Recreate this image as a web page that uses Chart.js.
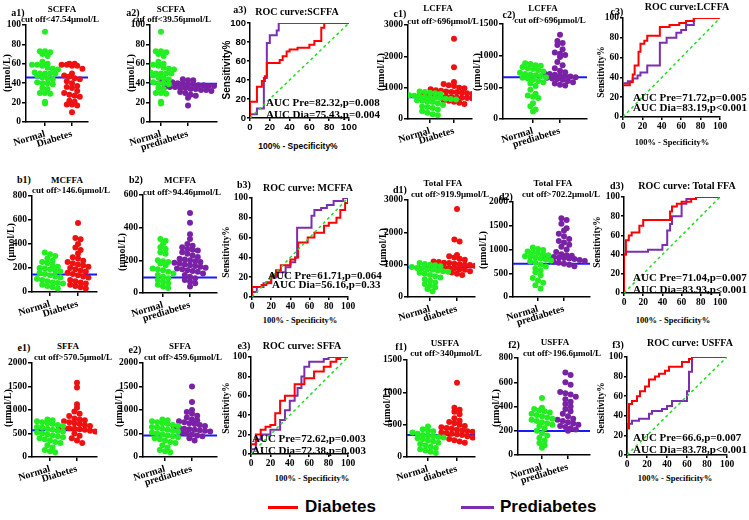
<!DOCTYPE html>
<html lang="en">
<head>
<meta charset="UTF-8">
<title>FFA cut-offs and ROC curves</title>
<script src="https://cdn.jsdelivr.net/npm/chart.js"></script>
<style>
  body { margin: 0; width: 749px; height: 520px; position: relative; overflow: hidden; background: #fff; }
  canvas { position: absolute; }
  .t { position: absolute; white-space: nowrap; font-weight: bold; font-family: "Liberation Serif", serif; color: #000; line-height: 1; }
  .leg { position: absolute; font: bold 17px "Liberation Sans", Arial, sans-serif; transform: translateY(-50%); }
  .bar { position: absolute; height: 3px; }
</style>
</head>
<body>
<script>
// ---------- values (µmol/L) ----------
const scffaNormal = [93,73,73,72,70,68,62,60,59,59,58,56,55,54,51,50,50,50,50,48,46,45,44,41,40,40,39,35,34,30,30,29,21,19];
const scffaDiabetes = [60,60,59,59,58,58,55,50,48,47,45,44,42,40,37,36,35,32,30,28,27,26,22,21,18,18,17,10];
const scffaPrediabetes = [44,43,43,42,42,41,40,40,39,39,38,38,37,37,36,36,36,35,35,34,34,33,33,32,31,30,28,27,25,17];

const lcffaNormal1 = [880,860,840,820,800,780,760,740,720,700,690,680,670,650,640,620,600,580,560,540,500,450,400,380,350,300,250,200,150,120];
const lcffaDiabetes = [2560,1650,1180,1120,1080,1050,1000,980,950,920,900,880,860,850,840,820,800,790,780,760,750,740,720,710,700,690,680,670,660,650,640,620,600,580,550,520,480];
const lcffaNormal2 = [880,870,850,840,820,800,790,770,750,730,710,700,690,680,660,650,640,620,600,580,560,520,460,400,370,350,330,250,200,150,120];
const lcffaPrediabetes = [1330,1230,1200,1170,1100,1050,1030,1010,980,900,850,800,760,740,720,710,700,690,680,670,660,650,640,630,620,600,580,560,540,530];

const mcffaNormal1 = [330,315,300,280,260,250,240,220,210,200,195,190,180,170,160,150,140,130,120,110,100,90,80,75,70,60,50,40,30];
const mcffaDiabetes = [575,450,440,400,370,350,320,290,280,260,250,240,230,220,210,200,190,180,170,160,150,140,130,120,100,90,80,70,60,50,40,30];
const mcffaNormal2 = [330,320,300,280,270,250,240,200,195,190,180,170,150,145,140,130,120,110,100,90,80,70,60,50,40,30];
const mcffaPrediabetes = [490,430,360,330,300,290,280,270,265,260,250,240,230,220,210,205,200,195,190,185,180,175,170,165,160,155,150,145,140,135,130,120,110,100,90,80,70,60,40];

const totalNormal1 = [1050,1020,1000,980,950,930,900,880,860,840,820,800,780,750,720,680,640,600,550,500,450,400,350,300,250,180];
const totalDiabetes = [2720,1780,1720,1300,1260,1220,1180,1150,1100,1080,1060,1050,1030,1010,1000,990,970,950,930,900,880,860,840,800,760,720,680];
const totalNormal2 = [1040,1010,990,960,940,920,900,880,860,850,830,810,790,770,750,720,680,640,600,560,520,460,400,350,300,250,180];
const totalPrediabetes = [1660,1620,1540,1450,1400,1330,1280,1220,1180,1150,1100,1060,1000,950,900,880,870,860,850,840,830,820,810,800,780,760,740,720,700,680,650];

const sffaNormal = [800,780,760,740,720,700,680,660,640,620,600,580,560,540,520,500,480,460,440,420,400,380,350,320,300,250,200,150,120,100];
const sffaDiabetes = [1580,1480,1120,1050,970,920,870,820,800,780,760,740,720,700,680,660,640,620,610,600,590,580,560,540,500,450,400,350,300];
const sffaPrediabetes = [1500,1170,1000,960,920,880,840,800,780,760,740,720,700,680,660,640,620,600,590,580,570,560,540,520,500,480,460,440,400,350];

const usffaNormal1 = [470,430,410,400,380,360,340,330,320,310,300,290,280,260,240,220,200,180,160,140,120,100,80,60];
const usffaDiabetes = [1150,760,730,700,660,600,560,540,520,500,480,460,450,440,420,410,400,390,380,370,360,350,340,320,300,280,260,240,220];
const usffaNormal2 = [470,390,380,370,360,350,340,330,320,310,300,290,280,270,260,250,240,220,200,180,160,140,120,100,80,60];
const usffaPrediabetes = [680,660,600,580,520,510,500,480,460,440,420,400,380,360,340,320,300,290,280,270,260,250,240,230,220,210,200];

// cut-off lines as drawn
const cutoffs = { a1: 46, a2: 39.5, c1: 696, c2: 660, b1: 146.6, b2: 94.5, d1: 920, d2: 702, e1: 570, e2: 460, f1: 340, f2: 197 };

// ROC curves: [100% - specificity, sensitivity]
const rocScffaDia = [[0,0],[0,17],[7,17],[7,33],[12,33],[12,39],[15,39],[15,44],[17,44],[17,58],[30,58],[30,61],[33,61],[33,65],[37,65],[37,70],[40,70],[40,72],[48,72],[48,74],[60,74],[60,77],[65,77],[65,81],[72,81],[72,95],[75,95],[75,100],[100,100]];
const rocScffaPre = [[0,0],[0,4],[7,4],[7,10],[14,10],[14,42],[17,42],[17,79],[20,79],[20,87],[27,87],[27,92],[29,92],[29,100],[100,100]];
const rocLcffaDia = [[0,0],[0,32],[7,32],[7,35],[10,35],[10,43],[12,43],[12,52],[16,52],[16,66],[18,66],[18,74],[22,74],[22,77],[25,77],[25,82],[38,82],[38,91],[48,91],[48,93],[58,93],[58,95],[65,95],[65,97],[73,97],[73,100],[100,100]];
const rocLcffaPre = [[0,0],[0,34],[5,34],[5,36],[10,36],[10,39],[15,39],[15,42],[18,42],[18,45],[25,45],[25,52],[38,52],[38,75],[45,75],[45,80],[55,80],[55,85],[60,85],[60,88],[65,88],[65,93],[73,93],[73,100],[100,100]];
const rocMcffaDia = [[0,0],[0,10],[10,10],[10,12],[15,12],[15,15],[20,15],[20,22],[25,22],[25,27],[30,27],[30,32],[40,32],[40,38],[45,38],[45,40],[48,40],[48,55],[58,55],[58,60],[65,60],[65,65],[75,65],[75,72],[80,72],[80,75],[88,75],[88,80],[92,80],[92,88],[97,88],[97,95],[100,95],[100,100]];
const rocMcffaPre = [[0,0],[0,5],[5,5],[5,10],[12,10],[12,14],[20,14],[20,20],[25,20],[25,25],[35,25],[35,30],[40,30],[40,35],[45,35],[45,40],[47,40],[47,70],[62,70],[62,82],[65,82],[65,88],[72,88],[72,90],[78,90],[78,93],[85,93],[85,97],[95,97],[95,100],[100,100]];
const rocTotalDia = [[0,0],[0,40],[2,40],[2,55],[5,55],[5,60],[8,60],[8,63],[16,63],[16,70],[20,70],[20,76],[48,76],[48,85],[50,85],[50,90],[55,90],[55,93],[60,93],[60,95],[70,95],[70,98],[75,98],[75,100],[100,100]];
const rocTotalPre = [[0,0],[0,40],[2,40],[2,43],[25,43],[25,45],[40,45],[40,50],[45,50],[45,65],[48,65],[48,72],[50,72],[50,80],[60,80],[60,93],[65,93],[65,98],[75,98],[75,100],[100,100]];
const rocSffaDia = [[0,0],[0,10],[5,10],[5,20],[10,20],[10,25],[15,25],[15,28],[20,28],[20,30],[25,30],[25,42],[30,42],[30,55],[35,55],[35,60],[45,60],[45,72],[55,72],[55,78],[65,78],[65,85],[75,85],[75,90],[82,90],[82,95],[88,95],[88,98],[92,98],[92,100],[100,100]];
const rocSffaPre = [[0,0],[0,5],[5,5],[5,15],[10,15],[10,20],[20,20],[20,25],[30,25],[30,35],[35,35],[35,45],[40,45],[40,55],[45,55],[45,60],[48,60],[48,68],[52,68],[52,80],[55,80],[55,90],[60,90],[60,95],[75,95],[75,98],[80,98],[80,100],[100,100]];
const rocUsffaDia = [[0,0],[0,27],[2,27],[2,52],[5,52],[5,55],[10,55],[10,60],[13,60],[13,65],[18,65],[18,70],[22,70],[22,77],[28,77],[28,80],[32,80],[32,83],[38,83],[38,86],[42,86],[42,90],[55,90],[55,95],[62,95],[62,98],[65,98],[65,100],[100,100]];
const rocUsffaPre = [[0,0],[0,32],[5,32],[5,35],[12,35],[12,37],[22,37],[22,42],[25,42],[25,45],[35,45],[35,47],[40,47],[40,50],[45,50],[45,55],[60,55],[60,65],[62,65],[62,85],[65,85],[65,100],[100,100]];

const GREEN = '#22ee22', RED = '#ee1111', PURPLE = '#7a22a6', BLUE = '#1a1aff';
const ROC_RED = '#ff0000', ROC_PURPLE = '#7b2fb0';
const SERIF = '"Liberation Serif", "Times New Roman", serif';
const SANS = '"Liberation Sans", Arial, sans-serif';

// spread dots of similar value sideways like a scatter-dot plot
function swarm(vals, center, bin, step) {
  const bins = {};
  vals.forEach(v => { const k = Math.round(v / bin); (bins[k] = bins[k] || []).push(v); });
  const pts = [];
  Object.values(bins).forEach(b => b.forEach((v, i) => pts.push({ x: center + (i - (b.length - 1) / 2) * step, y: v })));
  return pts;
}

function addCanvas(left, top, w, h) {
  const cv = document.createElement('canvas');
  cv.width = w; cv.height = h;
  cv.style.left = left + 'px'; cv.style.top = top + 'px';
  document.body.appendChild(cv);
  return cv;
}

function dotPlot(p) {
  const yW = 30, xH = 40, padT = 8, padR = 8;
  const k = p.c1 - p.c0;
  const xmin = (p.axisX - p.c0) / k, xmax = (p.endX - p.c0) / k;
  const cv = addCanvas(p.axisX - yW, p.top - padT, p.endX - p.axisX + yW + padR, p.bottom - p.top + padT + xH);
  const bin = p.max * 5.5 / (p.bottom - p.top), step = 5.2 / k;
  const g0 = swarm(p.a, 0, bin, step), g1 = swarm(p.b, 1, bin, step);
  new Chart(cv, {
    type: 'scatter',
    data: {
      datasets: [
        { data: g0, backgroundColor: GREEN, borderWidth: 0, pointRadius: 3 },
        { data: g1, backgroundColor: p.color, borderWidth: 0, pointRadius: 3 },
        { data: g0.concat(g1), backgroundColor: '#000', borderWidth: 0, pointRadius: 0.8 },
        { type: 'line', data: [{ x: xmin, y: p.cut }, { x: xmax, y: p.cut }], borderColor: BLUE, borderWidth: 2, pointRadius: 0 }
      ]
    },
    options: {
      responsive: false, animation: false, devicePixelRatio: 1,
      layout: { padding: { top: padT, right: padR, left: 0, bottom: 0 } },
      plugins: { legend: { display: false }, tooltip: { enabled: false } },
      scales: {
        x: {
          type: 'linear', min: xmin, max: xmax,
          afterBuildTicks: s => { s.ticks = [{ value: 0 }, { value: 1 }]; },
          afterFit: s => { s.height = xH; },
          ticks: { callback: (v, i) => (i === 0 ? p.lab0 : p.lab1), minRotation: 17, maxRotation: 17, autoSkip: false, color: '#000', padding: 2, font: { family: SERIF, size: 10, weight: 'bold' } },
          grid: { drawOnChartArea: false, color: '#000', tickLength: 4, lineWidth: 1.5 },
          border: { color: '#000', width: 1.5 }
        },
        y: {
          min: 0, max: p.max,
          afterFit: s => { s.width = yW; },
          ticks: { stepSize: p.step, callback: v => String(v), color: '#000', padding: 1, font: { family: SERIF, size: 9.5, weight: 'bold' } },
          grid: { drawOnChartArea: false, color: '#000', tickLength: 4, lineWidth: 1.5 },
          border: { color: '#000', width: 1.5 }
        }
      }
    }
  });
}

function rocPlot(p) {
  const yW = 24, xH = 16, padT = 8, padR = 10;
  const cv = addCanvas(p.left - yW, p.top - padT, p.right - p.left + yW + padR, p.bottom - p.top + padT + xH);
  const font = { family: p.sans ? SANS : SERIF, size: 9.5, weight: 'bold' };
  const toXY = arr => arr.map(d => ({ x: d[0], y: d[1] }));
  new Chart(cv, {
    type: 'scatter',
    data: {
      datasets: [
        { data: [{ x: 0, y: 0 }, { x: 100, y: 100 }], showLine: true, borderColor: '#22dd22', borderDash: [3, 3], borderWidth: 1.5, pointRadius: 0 },
        { data: toXY(p.dia), showLine: true, borderColor: ROC_RED, borderWidth: 2, pointRadius: 0 },
        { data: toXY(p.pre), showLine: true, borderColor: ROC_PURPLE, borderWidth: 2, pointRadius: 0 }
      ]
    },
    options: {
      responsive: false, animation: false, devicePixelRatio: 1,
      layout: { padding: { top: padT, right: padR, left: 0, bottom: 0 } },
      plugins: { legend: { display: false }, tooltip: { enabled: false } },
      scales: {
        x: {
          min: 0, max: 100, afterFit: s => { s.height = xH; },
          ticks: { stepSize: 20, color: '#000', padding: 1, maxRotation: 0, font: font },
          grid: { drawOnChartArea: false, color: '#000', tickLength: 3, lineWidth: 1.5 },
          border: { color: '#000', width: 1.5 }
        },
        y: {
          min: 0, max: 100, afterFit: s => { s.width = yW; },
          ticks: { stepSize: 20, color: '#000', padding: 1, font: font },
          grid: { drawOnChartArea: false, color: '#000', tickLength: 3, lineWidth: 1.5 },
          border: { color: '#000', width: 1.5 }
        }
      }
    }
  });
}

// ---------- panels ----------
dotPlot({ axisX: 26, endX: 88, c0: 45, c1: 72, top: 25, bottom: 122, max: 100, step: 20, a: scffaNormal, b: scffaDiabetes, color: RED, cut: cutoffs.a1, lab0: 'Normal', lab1: 'Diabetes' });
dotPlot({ axisX: 150, endX: 217, c0: 161, c1: 188, top: 25, bottom: 122, max: 100, step: 20, a: scffaNormal, b: scffaPrediabetes, color: PURPLE, cut: cutoffs.a2, lab0: 'Normal', lab1: 'prediabetes' });
rocPlot({ left: 250, right: 349, top: 23, bottom: 118, dia: rocScffaDia, pre: rocScffaPre, sans: true });
dotPlot({ axisX: 408, endX: 472, c0: 430, c1: 454, top: 25, bottom: 119, max: 3000, step: 1000, a: lcffaNormal1, b: lcffaDiabetes, color: RED, cut: cutoffs.c1, lab0: 'Normal', lab1: 'Diabetes' });
dotPlot({ axisX: 503, endX: 587, c0: 533, c1: 560, top: 24, bottom: 119, max: 1500, step: 500, a: lcffaNormal2, b: lcffaPrediabetes, color: PURPLE, cut: cutoffs.c2, lab0: 'Normal', lab1: 'prediabetes' });
rocPlot({ left: 623, right: 720, top: 18, bottom: 117, dia: rocLcffaDia, pre: rocLcffaPre });

dotPlot({ axisX: 32, endX: 97, c0: 50, c1: 78, top: 196, bottom: 292, max: 800, step: 200, a: mcffaNormal1, b: mcffaDiabetes, color: RED, cut: cutoffs.b1, lab0: 'Normal', lab1: 'Diabetes' });
dotPlot({ axisX: 143, endX: 217, c0: 163, c1: 190, top: 195, bottom: 293, max: 600, step: 200, a: mcffaNormal2, b: mcffaPrediabetes, color: PURPLE, cut: cutoffs.b2, lab0: 'Normal', lab1: 'prediabetes' });
rocPlot({ left: 252, right: 348, top: 198, bottom: 297, dia: rocMcffaDia, pre: rocMcffaPre });
dotPlot({ axisX: 408, endX: 475, c0: 430, c1: 457, top: 200, bottom: 297, max: 3000, step: 1000, a: totalNormal1, b: totalDiabetes, color: RED, cut: cutoffs.d1, lab0: 'Normal', lab1: 'diabetes' });
dotPlot({ axisX: 513, endX: 590, c0: 538, c1: 564, top: 202, bottom: 297, max: 2000, step: 500, a: totalNormal2, b: totalPrediabetes, color: PURPLE, cut: cutoffs.d2, lab0: 'Normal', lab1: 'prediabetes' });
rocPlot({ left: 624, right: 720, top: 197, bottom: 293, dia: rocTotalDia, pre: rocTotalPre });

dotPlot({ axisX: 32, endX: 97, c0: 50, c1: 77, top: 363, bottom: 457, max: 2000, step: 500, a: sffaNormal, b: sffaDiabetes, color: RED, cut: cutoffs.e1, lab0: 'Normal', lab1: 'Diabetes' });
dotPlot({ axisX: 143, endX: 217, c0: 165, c1: 192, top: 363, bottom: 457, max: 2000, step: 500, a: sffaNormal, b: sffaPrediabetes, color: PURPLE, cut: cutoffs.e2, lab0: 'Normal', lab1: 'prediabetes' });
rocPlot({ left: 251, right: 348, top: 357, bottom: 454, dia: rocSffaDia, pre: rocSffaPre });
dotPlot({ axisX: 407, endX: 475, c0: 428, c1: 457, top: 360, bottom: 457, max: 1500, step: 500, a: usffaNormal1, b: usffaDiabetes, color: RED, cut: cutoffs.f1, lab0: 'Normal', lab1: 'diabetes' });
dotPlot({ axisX: 518, endX: 590, c0: 542, c1: 568, top: 358, bottom: 455, max: 800, step: 200, a: usffaNormal2, b: usffaPrediabetes, color: PURPLE, cut: cutoffs.f2, lab0: 'Normal', lab1: 'prediabetes' });
rocPlot({ left: 627, right: 727, top: 357, bottom: 455, dia: rocUsffaDia, pre: rocUsffaPre });

// ---------- text ----------
// [text, x, y, size, mode ('c' centre, 'l' left, 'r' rotated), sans]
const labels = [
  ['a1)', 18, 13, 10, 'c'], ['SCFFA', 62, 9, 9, 'c'], ['cut off<47.54μmol/L', 60, 19, 9, 'c'], ['(μmol/L)', 7, 73, 10, 'r'],
  ['a2)', 133, 13, 10, 'c'], ['SCFFA', 171, 9, 9, 'c'], ['cuf off<39.56μmol/L', 172, 19, 9, 'c'], ['(μmol/L)', 131, 73, 10, 'r'],
  ['a3)', 240, 10, 10, 'c'], ['ROC curve:SCFFA', 297, 12, 10, 'c'], ['Sensitivity%', 227, 70, 10, 'r', 1], ['100% - Specificity%', 298, 146, 8.5, 'c', 1],
  ['AUC Pre=82.32,p=0.008', 266, 102, 11, 'l'], ['AUC Dia=75.43,p=0.004', 266, 114, 11, 'l'],
  ['c1)', 400, 14, 10, 'c'], ['LCFFA', 438, 8, 9, 'c'], ['cut off>696μmol/L', 443, 21, 9, 'c'], ['(μmol/L)', 381, 72, 10, 'r'],
  ['c2)', 509, 15, 10, 'c'], ['LCFFA', 543, 8, 9, 'c'], ['cut off>696μmol/L', 550, 20, 9, 'c'], ['(μmol/L)', 477, 72, 10, 'r'],
  ['c3)', 617, 12, 10, 'c'], ['ROC curve:LCFFA', 687, 7, 10, 'c'], ['Sensitivity%', 602, 72, 9.5, 'r'], ['100% - Specificity%', 672, 142, 8.5, 'c'],
  ['AUC Pre=71.72,p=0.005', 633, 97, 11, 'l'], ['AUC Dia=83.19,p<0.001', 633, 107, 11, 'l'],

  ['b1)', 24, 180, 10, 'c'], ['MCFFA', 67, 180, 9, 'c'], ['cut off>146.6μmol/L', 71, 190, 9, 'c'], ['(μmol/L)', 11, 242, 10, 'r'],
  ['b2)', 136, 180, 10, 'c'], ['MCFFA', 180, 180, 9, 'c'], ['cut off>94.46μmol/L', 182, 192, 9, 'c'], ['(μmol/L)', 122, 252, 10, 'r'],
  ['b3)', 244, 185, 10, 'c'], ['ROC curve: MCFFA', 308, 188, 10, 'c'], ['Sensitivity%', 227, 252, 9.5, 'r'], ['100% - Specificity%', 300, 320, 8.5, 'c'],
  ['AUC Pre=61.71,p=0.064', 268, 275, 11, 'l'], ['AUC Dia=56.16,p=0.33', 272, 284, 11, 'l'],
  ['d1)', 400, 190, 10, 'c'], ['Total FFA', 443, 183, 9, 'c'], ['cut off>919.9μmol/L', 450, 194, 9, 'c'], ['(μmol/L)', 383, 247, 10, 'r'],
  ['d2)', 506, 197, 10, 'c'], ['Total FFA', 553, 183, 9, 'c'], ['cut off>702.2μmol/L', 561, 194, 9, 'c'], ['(μmol/L)', 483, 250, 10, 'r'],
  ['d3)', 617, 186, 10, 'c'], ['ROC curve: Total FFA', 687, 186, 10, 'c'], ['Sensitivity%', 598, 242, 9.5, 'r'], ['100% - Specificity%', 673, 320, 8.5, 'c'],
  ['AUC Pre=71.04,p=0.007', 633, 277, 11, 'l'], ['AUC Dia=83.93,p<0.001', 633, 289, 11, 'l'],

  ['e1)', 24, 348, 10, 'c'], ['SFFA', 68, 346, 9, 'c'], ['cut off>570.5μmol/L', 73, 357, 9, 'c'], ['(μmol/L)', 8, 408, 10, 'r'],
  ['e2)', 135, 350, 10, 'c'], ['SFFA', 180, 346, 9, 'c'], ['cut off>459.6μmol/L', 183, 357, 9, 'c'], ['(μmol/L)', 119, 408, 10, 'r'],
  ['e3)', 244, 346, 10, 'c'], ['ROC curve: SFFA', 302, 346, 10, 'c'], ['Sensitivity%', 227, 408, 9.5, 'r'], ['100% - Specificity%', 312, 478, 8.5, 'c'],
  ['AUC Pre=72.62,p=0.003', 252, 438, 11, 'l'], ['AUC Dia=72.38,p=0.003', 252, 450, 11, 'l'],
  ['f1)', 401, 347, 10, 'c'], ['USFFA', 445, 343, 9, 'c'], ['cut off>340μmol/L', 446, 353, 9, 'c'], ['(μmol/L)', 387, 407, 10, 'r'],
  ['f2)', 514, 345, 10, 'c'], ['USFFA', 555, 342, 9, 'c'], ['cut off>196.6μmol/L', 562, 353, 9, 'c'], ['(μmol/L)', 496, 408, 10, 'r'],
  ['f3)', 618, 345, 10, 'c'], ['ROC curve: USFFA', 690, 343, 10, 'c'], ['Sensitivity%', 602, 408, 9.5, 'r'], ['100% - Specificity%', 675, 478, 8.5, 'c'],
  ['AUC Pre=66.6,p=0.007', 633, 437, 11, 'l'], ['AUC Dia=83.78,p<0.001', 633, 449, 11, 'l']
];
labels.forEach(([s, x, y, size, mode, sans]) => {
  const d = document.createElement('div');
  d.className = 't';
  d.textContent = s;
  d.style.left = x + 'px'; d.style.top = y + 'px'; d.style.fontSize = size + 'px';
  if (sans) d.style.fontFamily = SANS;
  d.style.transform = mode === 'l' ? 'translate(0,-50%)' : mode === 'r' ? 'translate(-50%,-50%) rotate(-90deg)' : 'translate(-50%,-50%)';
  document.body.appendChild(d);
});

// legend
[[268, 30, ROC_RED, 'Diabetes', 305], [461, 33, ROC_PURPLE, 'Prediabetes', 500]].forEach(([x, w, c, s, tx]) => {
  const b = document.createElement('div');
  b.className = 'bar';
  b.style.left = x + 'px'; b.style.top = '506px'; b.style.width = w + 'px'; b.style.background = c;
  document.body.appendChild(b);
  const t = document.createElement('div');
  t.className = 'leg';
  t.textContent = s;
  t.style.left = tx + 'px'; t.style.top = '507px';
  document.body.appendChild(t);
});
</script>
</body>
</html>
